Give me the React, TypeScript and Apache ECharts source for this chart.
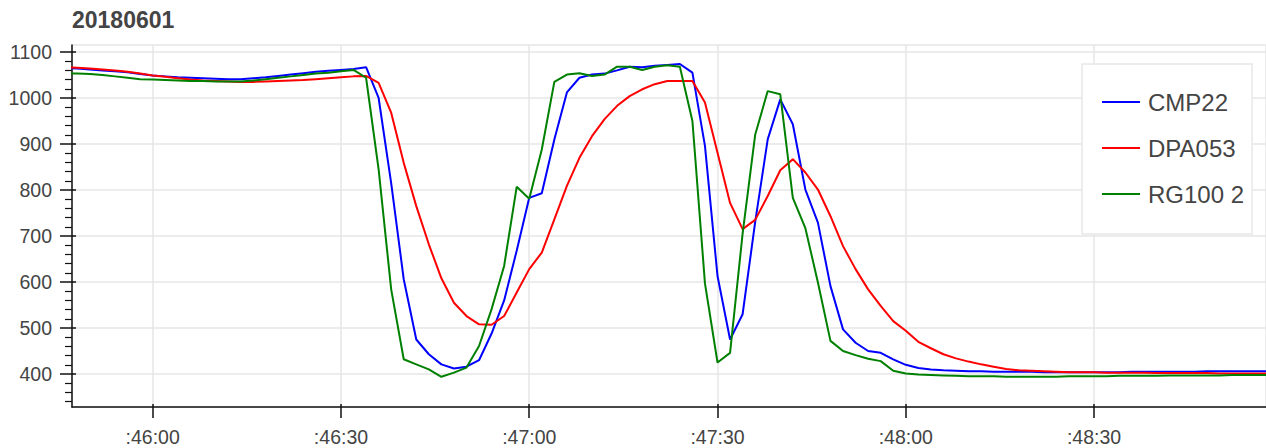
import React, { useEffect, useRef } from "react";
import * as echarts from "echarts";

// ---- data (seconds are relative to hh:46:00, sampled every 2 s) ----
const TITLE = "20180601";
const SERIES_NAMES = ["CMP22", "DPA053", "RG100 2"];
const SERIES_COLORS = ["#0000ff", "#ff0000", "#008000"];
const START_SECOND = -14;
const STEP_SECONDS = 2;

const X_TICKS = [0, 30, 60, 90, 120, 150];
const Y_TICKS = [400, 500, 600, 700, 800, 900, 1000, 1100];

const cmp22 = [
  1065, 1064, 1062, 1060, 1058, 1056, 1052, 1049, 1047, 1045, 1044, 1043, 1042, 1041, 1041, 1043,
  1045, 1048, 1051, 1054, 1057, 1059, 1061, 1063, 1067, 1000, 815, 606, 475, 443, 421, 412,
  416, 430, 488, 560, 668, 783, 793, 910, 1012, 1044, 1051, 1053, 1060, 1068, 1067, 1070,
  1072, 1074, 1055, 896, 613, 475, 530, 730, 910, 997, 943, 801, 729, 591, 497, 468,
  450, 446, 432, 420, 413, 410, 408, 407, 406, 406, 405, 405, 405, 405, 404, 404,
  404, 404, 404, 404, 404, 405, 405, 405, 405, 405, 405, 406, 406, 406, 406, 406, 406,
];

const dpa053 = [
  1067, 1066, 1064, 1062, 1060, 1057, 1053, 1049, 1046, 1043, 1040, 1038, 1037, 1036, 1035, 1035,
  1036, 1037, 1038, 1039, 1041, 1043, 1045, 1047, 1048, 1033, 968, 859, 765, 682, 608, 555,
  526, 508, 507, 526, 577, 628, 664, 736, 809, 870, 917, 954, 983, 1004, 1019, 1030,
  1037, 1037, 1037, 990, 881, 772, 715, 735, 787, 843, 867, 838, 801, 743, 678, 628,
  584, 548, 515, 494, 470, 456, 443, 434, 427, 421, 416, 411, 408, 407, 406, 405,
  404, 404, 404, 403, 403, 403, 403, 402, 402, 402, 402, 402, 401, 401, 401, 401, 401,
];

const rg100_2 = [
  1054, 1053, 1052, 1050, 1047, 1044, 1041, 1040, 1039, 1038, 1037, 1037, 1036, 1036, 1036, 1038,
  1041, 1044, 1047, 1050, 1053, 1055, 1058, 1061, 1044, 845, 584, 432, 421, 410, 394, 403,
  414, 461, 541, 635, 807, 781, 888, 1035, 1051, 1054, 1048, 1051, 1068, 1068, 1061, 1068,
  1071, 1068, 950, 597, 425, 446, 705, 920, 1015, 1008, 783, 717, 599, 472, 450, 441,
  433, 428, 407, 401, 399, 398, 397, 396, 395, 395, 395, 394, 394, 394, 394, 394,
  395, 395, 395, 395, 396, 396, 396, 396, 397, 397, 397, 397, 397, 398, 398, 398, 398,
];

const SERIES_VALUES = [cmp22, dpa053, rg100_2];

const FONT = "'Liberation Sans', Arial, Helvetica, sans-serif";

function fmtTime(t: number): string {
  const total = 46 * 60 + t;
  const m = Math.floor(total / 60);
  const s = Math.round(total - m * 60);
  return ":" + m + ":" + (s < 10 ? "0" + s : String(s));
}

export default function App() {
  const ref = useRef<HTMLDivElement>(null);

  useEffect(() => {
    if (!ref.current) return;
    const chart = echarts.init(ref.current, undefined, { renderer: "svg" });

    const series = SERIES_NAMES.map((name, k) => ({
      name,
      type: "line",
      symbol: "none",
      showSymbol: false,
      data: SERIES_VALUES[k].map((v, i) => [START_SECOND + i * STEP_SECONDS, v]),
      lineStyle: { width: 2, color: SERIES_COLORS[k] },
      itemStyle: { color: SERIES_COLORS[k] },
      xAxisIndex: 0,
      yAxisIndex: 0,
      z: 3 + k,
    }));

    const axisColor = "#111";
    const xMin = -12.86;
    const xMax = 177.4;
    const yMin = 328.3;
    const yMax = 1115.2;

    chart.setOption({
      animation: false,
      backgroundColor: "#fff",
      title: {
        text: TITLE,
        left: 72,
        top: 8,
        padding: 0,
        textStyle: { fontSize: 23, fontWeight: "bold", color: "#444", fontFamily: FONT, lineHeight: 23 },
      },
      grid: {
        left: 72,
        right: 0,
        top: 45,
        bottom: 41,
        show: true,
        borderColor: "#e6e6e6",
        borderWidth: 1.5,
      },
      legend: {
        orient: "vertical",
        left: 1082,
        top: 64,
        padding: [26, 8, 28, 20],
        itemWidth: 38,
        itemHeight: 20,
        itemGap: 22,
        icon: "path://M0,0L38,0L38,2L0,2Z",
        backgroundColor: "#fff",
        borderColor: "#e8e8e8",
        borderWidth: 1.5,
        textStyle: { fontSize: 24, color: "#444", fontFamily: FONT, lineHeight: 20, padding: [0, 0, 0, 3] },
        data: SERIES_NAMES,
      },
      xAxis: [
        {
          type: "value",
          min: xMin,
          max: xMax,
          splitNumber: 6,
          axisLine: { show: true, onZero: false, lineStyle: { color: axisColor, width: 1.5 } },
          axisTick: { show: true, customValues: X_TICKS, length: 11, lineStyle: { color: axisColor, width: 1.5 } },
          axisLabel: {
            customValues: X_TICKS,
            formatter: (v: number) => fmtTime(v),
            fontSize: 19.5,
            color: "#444",
            fontFamily: FONT,
            margin: 20,
          },
          splitLine: { show: true, lineStyle: { color: "#e6e6e6", width: 1.5 } },
        },
        {
          type: "value",
          min: xMin,
          max: xMax,
          splitNumber: 6,
          position: "bottom",
          axisLine: { show: false, onZero: false },
          axisTick: { show: true, inside: true, customValues: X_TICKS, length: 3, lineStyle: { color: axisColor, width: 1.5 } },
          axisLabel: { show: false },
          splitLine: { show: false },
        },
      ],
      yAxis: [
        {
          type: "value",
          min: yMin,
          max: yMax,
          splitNumber: 8,
          axisLine: { show: true, onZero: false, lineStyle: { color: axisColor, width: 1.5 } },
          axisTick: { show: true, customValues: Y_TICKS, length: 12, lineStyle: { color: axisColor, width: 1.5 } },
          minorTick: { show: true, splitNumber: 5, length: 7, lineStyle: { color: axisColor, width: 1.2 } },
          axisLabel: {
            customValues: Y_TICKS,
            formatter: (v: number) => String(v),
            fontSize: 19.5,
            color: "#444",
            fontFamily: FONT,
            margin: 20,
          },
          splitLine: { show: true, lineStyle: { color: "#e6e6e6", width: 1.5 } },
        },
        {
          type: "value",
          min: yMin,
          max: yMax,
          splitNumber: 8,
          position: "left",
          axisLine: { show: false, onZero: false },
          axisTick: { show: true, inside: true, customValues: Y_TICKS, length: 4, lineStyle: { color: axisColor, width: 1.5 } },
          axisLabel: { show: false },
          splitLine: { show: false },
        },
      ],
      series,
    });

    return () => chart.dispose();
  }, []);

  return <div ref={ref} style={{ position: "absolute", left: 0, top: 0, width: 1266, height: 448 }} />;
}
